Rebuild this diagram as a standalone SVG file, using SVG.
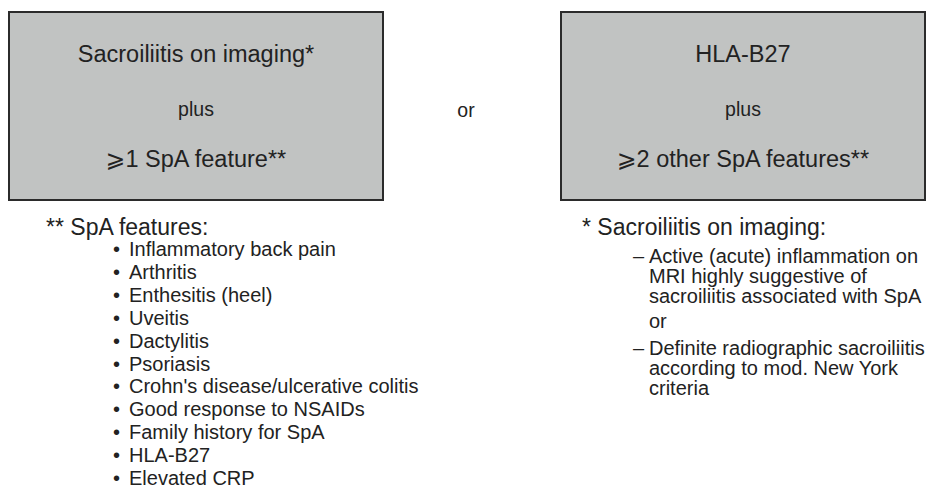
<svg xmlns="http://www.w3.org/2000/svg" width="928" height="492" viewBox="0 0 928 492">
<style>
text{font-family:"Liberation Sans",Arial,"DejaVu Sans",sans-serif;fill:#222}
.box{fill:#c1c3c2;stroke:#2b2b2b;stroke-width:2}
.bt{font-size:23.5px;text-anchor:middle}
.pl{font-size:19.5px;text-anchor:middle}
.hd{font-size:23px}
.it{font-size:20px}
</style>
<rect width="928" height="492" fill="#ffffff"/>
<g id="box-sacroiliitis">
<rect class="box" x="9" y="12" width="374" height="188"/>
<text class="bt" x="196" y="62">Sacroiliitis on imaging*</text>
<text class="pl" x="196" y="116">plus</text>
<text class="bt" x="196" y="167">⩾1 SpA feature**</text>
</g>
<g id="or-middle">
<text class="pl" x="466" y="117">or</text>
</g>
<g id="box-hla">
<rect class="box" x="561" y="12" width="364" height="188"/>
<text class="bt" x="743" y="62">HLA-B27</text>
<text class="pl" x="743" y="116">plus</text>
<text class="bt" x="743" y="167">⩾2 other SpA features**</text>
</g>
<g id="connectors"></g>
<g id="spa-features">
<text class="hd" x="46" y="235">** SpA features:</text>
<text class="it" x="113" y="256">•</text><text class="it" x="129" y="256">Inflammatory back pain</text>
<text class="it" x="113" y="278.9">•</text><text class="it" x="129" y="278.9">Arthritis</text>
<text class="it" x="113" y="301.8">•</text><text class="it" x="129" y="301.8">Enthesitis (heel)</text>
<text class="it" x="113" y="324.7">•</text><text class="it" x="129" y="324.7">Uveitis</text>
<text class="it" x="113" y="347.6">•</text><text class="it" x="129" y="347.6">Dactylitis</text>
<text class="it" x="113" y="370.5">•</text><text class="it" x="129" y="370.5">Psoriasis</text>
<text class="it" x="113" y="393.4">•</text><text class="it" x="129" y="393.4">Crohn's disease/ulcerative colitis</text>
<text class="it" x="113" y="416.3">•</text><text class="it" x="129" y="416.3">Good response to NSAIDs</text>
<text class="it" x="113" y="439.2">•</text><text class="it" x="129" y="439.2">Family history for SpA</text>
<text class="it" x="113" y="462.1">•</text><text class="it" x="129" y="462.1">HLA-B27</text>
<text class="it" x="113" y="485">•</text><text class="it" x="129" y="485">Elevated CRP</text>
</g>
<g id="sacroiliitis-imaging">
<text class="hd" x="582" y="235">* Sacroiliitis on imaging:</text>
<text class="it" x="633" y="263">–</text><text class="it" x="649" y="263">Active (acute) inflammation on</text>
<text class="it" x="649" y="283">MRI highly suggestive of</text>
<text class="it" x="649" y="303">sacroiliitis associated with SpA</text>
<text class="it" x="649" y="328">or</text>
<text class="it" x="633" y="355">–</text><text class="it" x="649" y="355">Definite radiographic sacroiliitis</text>
<text class="it" x="649" y="375">according to mod. New York</text>
<text class="it" x="649" y="395">criteria</text>
</g>
</svg>
